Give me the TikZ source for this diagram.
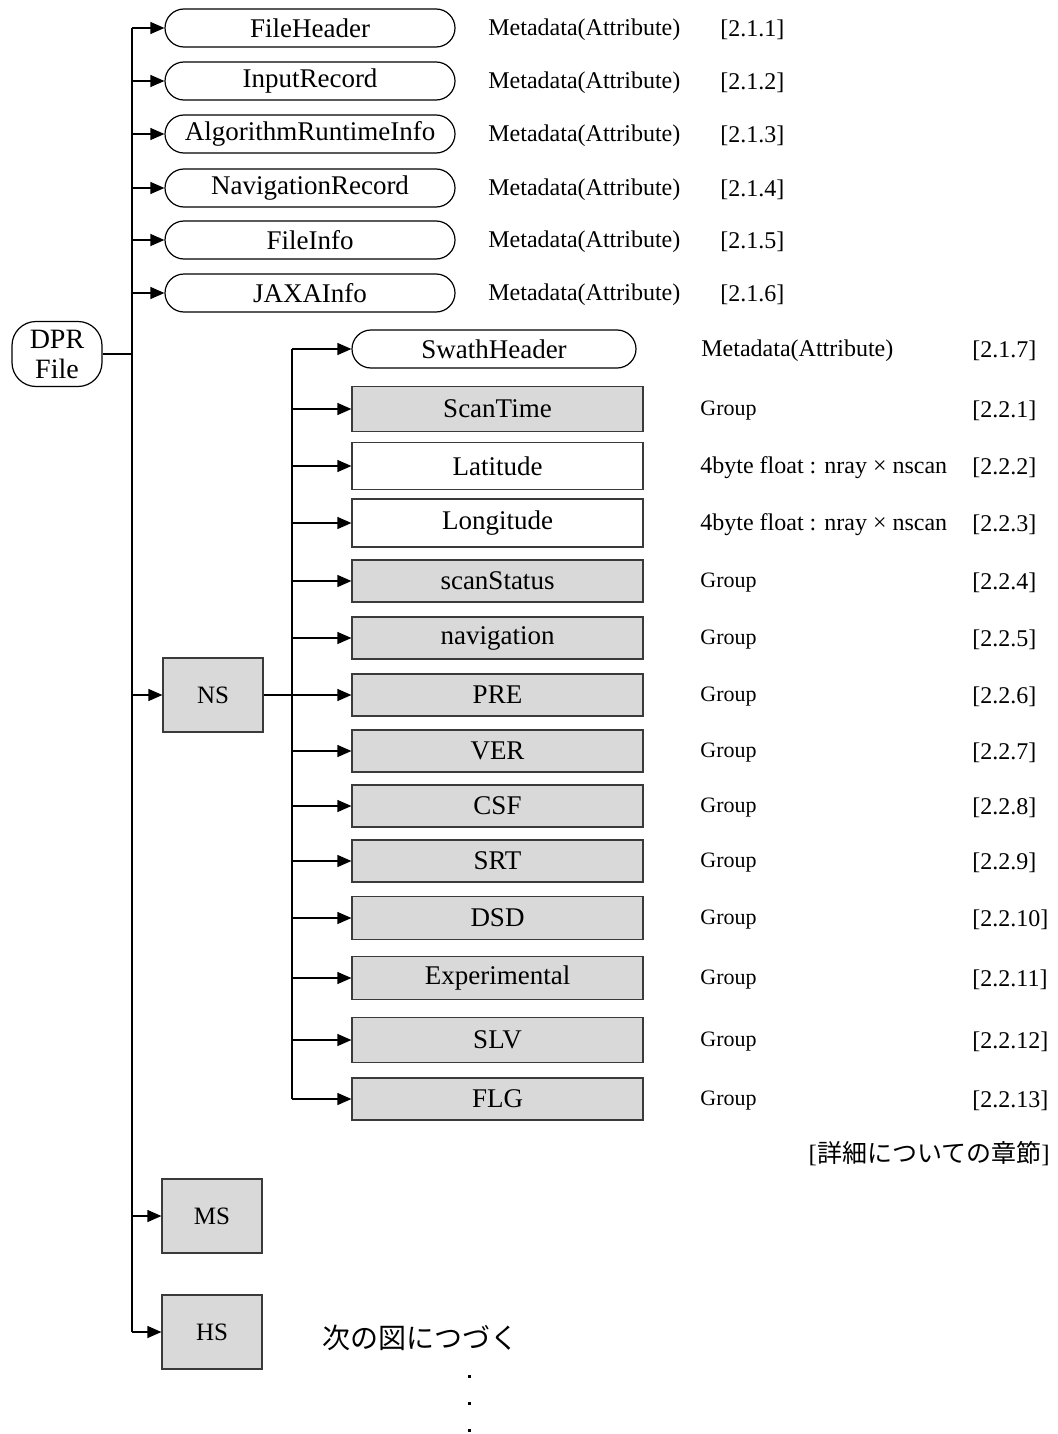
\documentclass[tikz,border=0pt]{standalone}
\usepackage{fontspec}
\setmainfont{Liberation Serif}
\newfontfamily\jpfont{Noto Sans CJK JP}
\usetikzlibrary{arrows.meta,positioning}
\definecolor{DPRgray}{HTML}{D9D9D9}
\definecolor{DPRline}{HTML}{3A3A3A}
\tikzset{attrbox/.style={draw=black,line width=0.6pt,rounded corners=9.5pt,inner sep=0pt,
 minimum width=145pt,minimum height=19pt,font=\fontsize{13.5}{15}\selectfont},
 grpbox/.style={draw=DPRline,line width=0.6pt,fill=DPRgray,inner sep=0pt,
 minimum width=145.5pt,minimum height=21pt,font=\fontsize{13.5}{15}\selectfont},
 varbox/.style={grpbox,fill=white,minimum height=23.5pt},
 swbox/.style={grpbox,minimum width=50pt,minimum height=37pt,font=\fontsize{12.5}{14}\selectfont},
 typetxt/.style={anchor=west,inner sep=0pt,yshift=-1pt,font=\fontsize{12}{14}\selectfont},
 grptxt/.style={typetxt,font=\fontsize{11}{13}\selectfont},
 reftxt/.style={anchor=west,inner sep=0pt,yshift=-1pt,font=\fontsize{12}{14}\selectfont},
 dprline/.style={line width=0.6pt,draw=black},
 dprarr/.style={-{Triangle[length=7pt,width=6pt]},line width=0.6pt,draw=black}}
\begin{document}
\begin{tikzpicture}[x=0.5pt,y=-0.5pt]
\useasboundingbox (0,0) rectangle (1057,1434);
% root and first level
\node[draw=black,line width=0.6pt,rounded corners=12pt,minimum width=45pt,minimum height=32.5pt,
 inner sep=0pt,align=center,font=\fontsize{14}{15}\selectfont] (dpr) at (57,354) {DPR\\File};
\coordinate (trunk) at (132,354);
\node[attrbox] (fh) at (310,28) {FileHeader};
\node[attrbox] (ir) at (310,81) {InputRecord};
\node[attrbox] (ari) at (310,134) {AlgorithmRuntimeInfo};
\node[attrbox] (nr) at (310,188) {NavigationRecord};
\node[attrbox] (fi) at (310,240) {FileInfo};
\node[attrbox] (jaxa) at (310,293) {JAXAInfo};
\node[swbox] (ns) at (213,695) {NS};
\node[swbox] (ms) at (212,1216) {MS};
\node[swbox] (hs) at (212,1332) {HS};
% second level under NS
\coordinate (nsbus) at (292,695);
\node[attrbox,minimum width=142pt] (sh) at (494,349) {SwathHeader};
\node[grpbox,minimum height=22.5pt] (st) at (497.5,409) {ScanTime};
\node[varbox] (lat) at (497.5,466) {Latitude};
\node[varbox,minimum height=24pt] (lon) at (497.5,523) {Longitude};
\node[grpbox] (ss) at (497.5,581) {scanStatus};
\node[grpbox] (nav) at (497.5,638) {navigation};
\node[grpbox] (pre) at (497.5,695) {PRE};
\node[grpbox] (ver) at (497.5,751) {VER};
\node[grpbox] (csf) at (497.5,806) {CSF};
\node[grpbox] (srt) at (497.5,861) {SRT};
\node[grpbox,minimum height=21.5pt] (dsd) at (497.5,918) {DSD};
\node[grpbox,minimum height=21.5pt] (exp) at (497.5,978) {Experimental};
\node[grpbox,minimum height=22.5pt] (slv) at (497.5,1040) {SLV};
\node[grpbox] (flg) at (497.5,1099) {FLG};
% descriptions
\foreach \nm/\rf in {fh/2.1.1,ir/2.1.2,ari/2.1.3,nr/2.1.4,fi/2.1.5,jaxa/2.1.6}{
 \node[typetxt] at (488,0 |- \nm) {Metadata(Attribute)};
 \node[reftxt] at (720,0 |- \nm) {[\rf]};
}
\node[typetxt] at (701,0 |- sh) {Metadata(Attribute)};
\node[reftxt] at (972,0 |- sh) {[2.1.7]};
\node[typetxt] at (700,0 |- lat) {4byte float : nray × nscan};
\node[reftxt] at (972,0 |- lat) {[2.2.2]};
\node[typetxt] at (700,0 |- lon) {4byte float : nray × nscan};
\node[reftxt] at (972,0 |- lon) {[2.2.3]};
\foreach \nm/\rf in {st/2.2.1,ss/2.2.4,nav/2.2.5,pre/2.2.6,ver/2.2.7,csf/2.2.8,srt/2.2.9,
 dsd/2.2.10,exp/2.2.11,slv/2.2.12,flg/2.2.13}{
 \node[grptxt] at (700,0 |- \nm) {Group};
 \node[reftxt] at (972,0 |- \nm) {[\rf]};
}
\node[anchor=east,inner sep=0pt,font=\fontsize{12.5}{15}\selectfont] (chapnote) at (1050,1154)
 {[{\jpfont 詳細についての章節}]};
\node[anchor=west,inner sep=0pt,font=\fontsize{14}{16}\selectfont] (cont) at (322,1338)
 {\jpfont 次の図につづく};
\foreach \y in {1376,1403,1430}
 \fill (467.5,\y-1.5) rectangle ++(3,3);
% connectors
\draw[dprline] (dpr) -- (trunk);
\draw[dprline] (trunk |- fh) -- (trunk |- hs);
\foreach \nm in {fh,ir,ari,nr,fi,jaxa,ns,ms,hs}
 \draw[dprarr] (trunk |- \nm) -- (\nm);
\draw[dprline] (ns) -- (nsbus);
\draw[dprline] (nsbus |- sh) -- (nsbus |- flg);
\foreach \nm in {sh,st,lat,lon,ss,nav,pre,ver,csf,srt,dsd,exp,slv,flg}
 \draw[dprarr] (nsbus |- \nm) -- (\nm);
\end{tikzpicture}
\end{document}
